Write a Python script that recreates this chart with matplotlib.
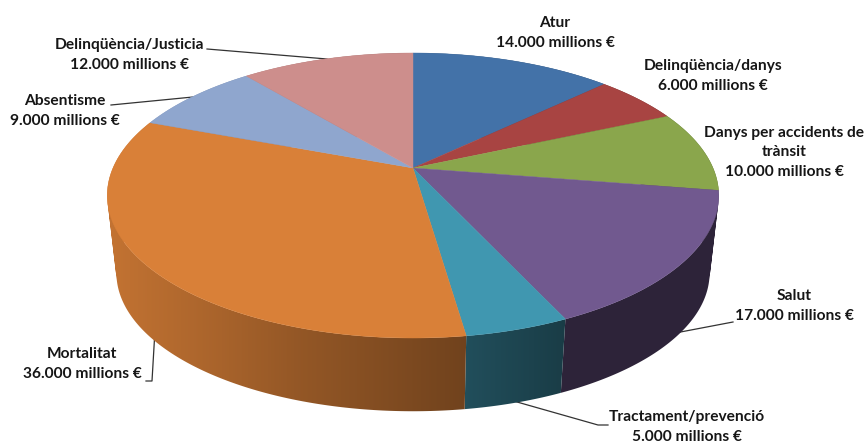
import numpy as np
import matplotlib
matplotlib.use('Agg')
import matplotlib.pyplot as plt
from matplotlib.patches import PathPatch
from matplotlib.path import Path

plt.rcParams['font.family'] = ['Lato', 'DejaVu Sans']

# Data (millions of euro), clockwise from the top of the pie
names = ['Atur', 'Delinqüència/danys', 'Danys per accidents de\ntrànsit', 'Salut',
         'Tractament/prevenció', 'Mortalitat', 'Absentisme', 'Delinqüència/Justicia']
values = [14000, 6000, 10000, 17000, 5000, 36000, 9000, 12000]
colors = ['#4372A8', '#A84442', '#8AA64C', '#71598F', '#4097B0', '#D98038', '#8FA6CE', '#CD8E8C']

# Label centres, and the leader line of each label
label_xy = [(555, 33), (713, 76), (784, 152), (794, 306), (687, 427), (82, 364), (65, 111), (129, 55)]
leaders = [None, None, None,
           [(733, 322), (670, 334)],
           [(608, 425), (598, 425), (510, 400)],
           [(146, 381), (152, 381), (155, 330)],
           [(111, 105), (193, 97)],
           [(207, 49), (327, 59)]]

# Perspective of the top face: apex, half width/height and tilt
cx, cy = 413, 168
R, S, k = 300, 137.2, 0.193
# Lower face is the top face scaled and moved down
mid_y, low_y, low_scale = 195.5, 273, 0.97

# Darkening of the side wall from left to right
shade_x = [107, 200, 300, 465, 565, 720]
shade_f = [0.90, 0.80, 0.68, 0.52, 0.40, 0.40]


def top_point(a):
    u, v = np.sin(a), np.cos(a)
    d = 1 + k * v
    return cx + R * u / d, cy - S * v / d


def low_point(x, y):
    return cx + low_scale * (x - cx), low_y + low_scale * (y - mid_y)


def wall_path(a_from, a_to):
    # one path of thin quads, all wound the same way, so the fold at the sides stays filled
    angles = np.linspace(a_from, a_to, 200)
    quads = []
    for a0, a1 in zip(angles[:-1], angles[1:]):
        p0, p1 = top_point(a0), top_point(a1)
        q = np.array([p0, p1, low_point(*p1), low_point(*p0), p0])
        area = np.sum(q[:-1, 0] * q[1:, 1] - q[1:, 0] * q[:-1, 1])
        quads.append(Path(q if area > 0 else q[::-1], closed=True))
    return Path.make_compound_path(*quads)


fig = plt.figure(figsize=(8.65, 4.45), dpi=100)
ax = fig.add_axes([0, 0, 1, 1])
ax.axis('off')

edges = np.cumsum([0] + values) / sum(values) * 2 * np.pi
ramp = np.interp(np.arange(865) + 0.5, shade_x, shade_f)

# Side wall: a gradient clipped to each slice's outline
for i, col in enumerate(colors):
    patch = PathPatch(wall_path(edges[i], edges[i + 1]), transform=ax.transData, fc='none', ec='none')
    ax.add_patch(patch)
    base = np.array(matplotlib.colors.to_rgb(col))
    img = ax.imshow((ramp[:, None] * base)[None, :, :], extent=(0, 865, 445, 0), aspect='auto',
                    interpolation='bilinear', zorder=1)
    img.set_clip_path(patch)

# Top face
for i, col in enumerate(colors):
    angles = np.linspace(edges[i], edges[i + 1], 200)
    xs, ys = top_point(angles)
    ax.fill(np.r_[cx, xs], np.r_[cy, ys], color=col, lw=0.3, zorder=2)

# Labels and leader lines
for name, val, (lx, ly), lead in zip(names, values, label_xy, leaders):
    amount = f'{val:,}'.replace(',', '.') + ' millions €'
    ax.text(lx, ly, name + '\n' + amount, ha='center', va='center', fontsize=11.2,
            fontweight='bold', color='#161616', linespacing=1.5, zorder=4)
    if lead:
        ax.plot(*zip(*lead), color='#333333', lw=0.9, zorder=0.5)

ax.set_xlim(0, 865)
ax.set_ylim(445, 0)
plt.savefig('out.png', dpi=100)
